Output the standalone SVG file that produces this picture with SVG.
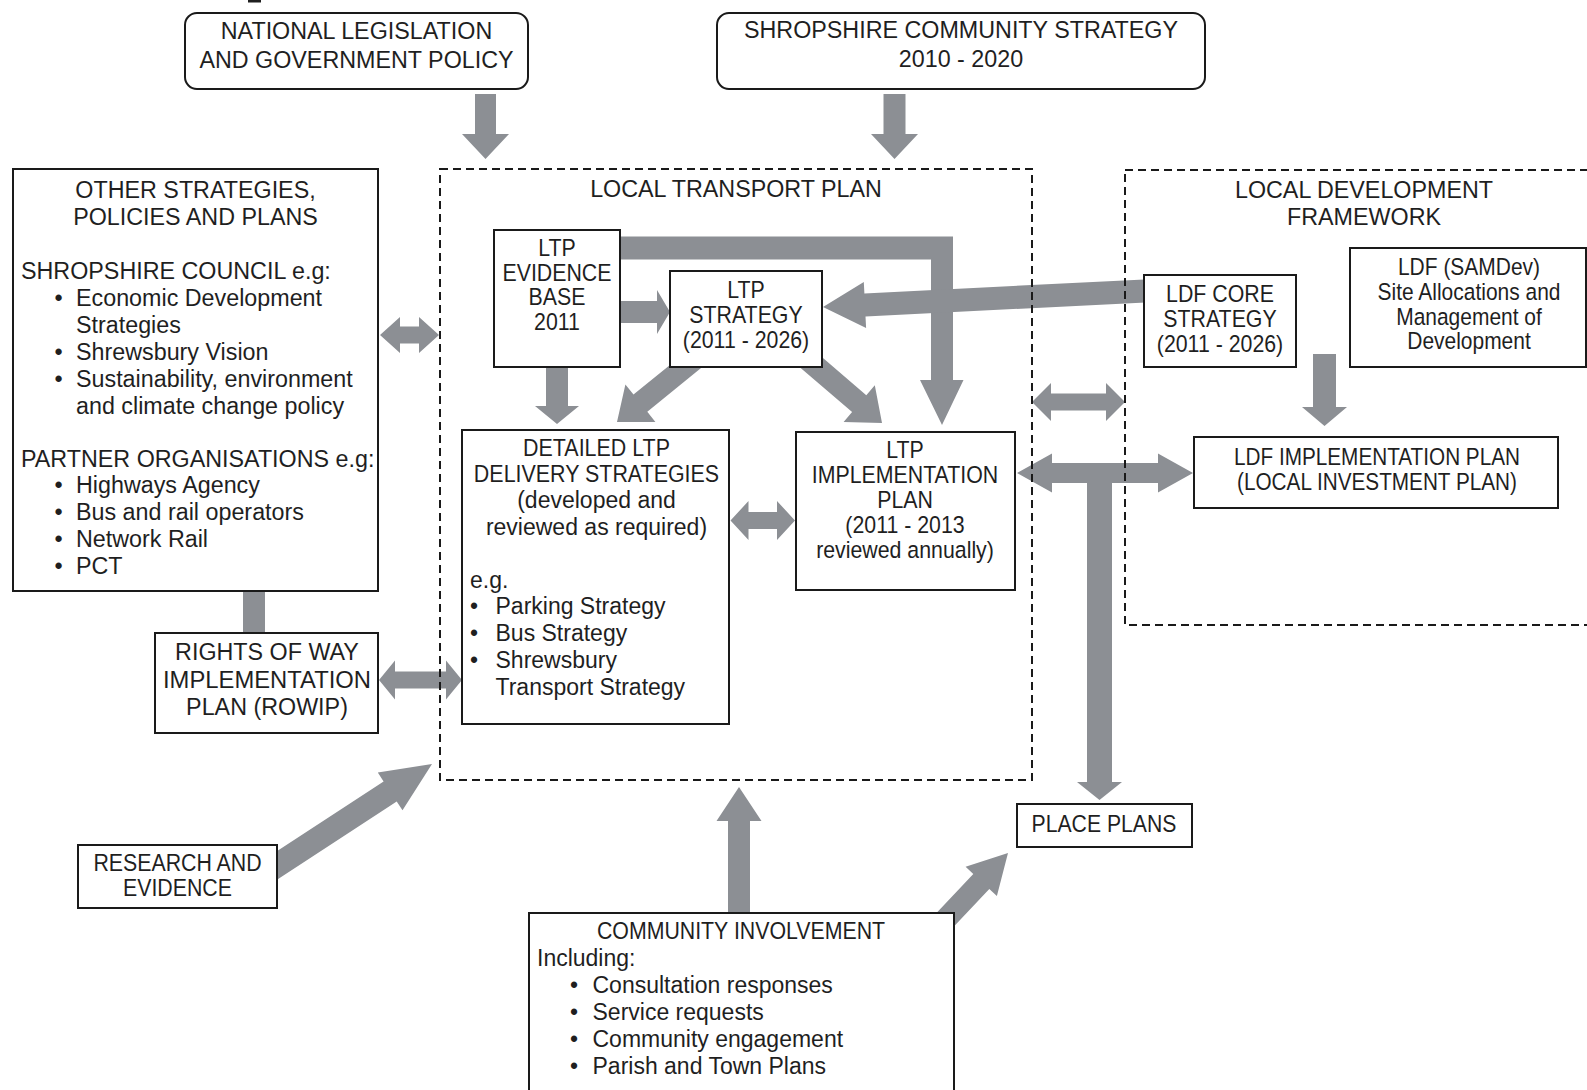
<svg xmlns="http://www.w3.org/2000/svg" width="1587" height="1090" viewBox="0 0 1587 1090">
<style>
  text { font-family: "Liberation Sans", Arial, sans-serif; fill: #1f1f1f; }
  .o { font-size: 23.3px; }
  .m { font-size: 23px; }
  .c { text-anchor: middle; }
  .box { fill: #ffffff; stroke: #1a1a1a; stroke-width: 2; }
  .dash { fill: none; stroke: #1a1a1a; stroke-width: 2; stroke-dasharray: 8 5; }
  .arr { fill: #8c8f94; stroke: none; }
</style>
<rect x="0" y="0" width="1587" height="1090" fill="#ffffff"/>
<rect x="248" y="0" width="13" height="2.5" fill="#1f1f1f"/>

<g id="connectors">
  <polygon class="arr" points="475,94 496,94 496,134 509,134 485.5,159 462,134 475,134"/>
  <polygon class="arr" points="883.5,94 905.5,94 905.5,134 918,134 894.5,159 871,134 883.5,134"/>
  <polygon class="arr" points="380,335 400,317 400,326.5 419,326.5 419,317 439,335 419,353 419,343.5 400,343.5 400,353"/>
  <rect class="arr" x="243" y="590" width="22" height="44"/>
  <polygon class="arr" points="379,680 395,660.5 395,671.5 446,671.5 446,660.5 462,680 446,699.5 446,688.5 395,688.5 395,699.5"/>
  <polygon class="arr" points="276.6,880 396.7,801.4 402.5,810.2 432,764 377.8,772.6 383.6,781.4 263.4,860"/>
  <polygon class="arr" points="728,914 728,821 716.5,821 739,787 761.5,821 750,821 750,914"/>
  <polygon class="arr" points="952,928.5 989.3,888.9 996.9,896.1 1008,853 965.6,866.7 973.3,873.9 936,913.5"/>
  <polygon class="arr" points="612,301 657,301 657,290 670,312 657,334 657,323 612,323"/>
  <polygon class="arr" points="546,362 568,362 568,406 579,406 557,424 535,406 546,406"/>
  <polygon class="arr" points="612,236.5 953,236.5 953,380 963.5,380 942,425 920,380 931,380 931,259.5 612,259.5"/>
  <polygon class="arr" points="1150.6,302.2 865.5,316.4 866.1,327.9 823,307 863.8,281.9 864.4,293.4 1149.4,279.2"/>
  <polygon class="arr" points="702.9,366.6 647.3,411.8 655.4,421.9 617,422 625.4,384.5 633.5,394.6 689.1,349.4"/>
  <polygon class="arr" points="798.9,366.4 852.1,412 843.6,421.9 882,423 874.8,385.3 866.3,395.2 813.1,349.6"/>
  <polygon class="arr" points="730.5,520.5 748.5,501 748.5,512 777,512 777,501 795,520.5 777,540 777,529 748.5,529 748.5,540"/>
  <polygon class="arr" points="1032,402 1051,383 1051,393.5 1106,393.5 1106,383 1125,402 1106,421 1106,410.5 1051,410.5 1051,421"/>
  <polygon class="arr" points="1017,473 1052,453.5 1052,463 1158,463 1158,453.5 1193,473 1158,492.5 1158,483 1112,483 1112,782 1122,782 1099.5,800 1077,782 1087,782 1087,483 1052,483 1052,492.5"/>
  <polygon class="arr" points="1313,354 1336,354 1336,407 1347,407 1324.5,426 1302,407 1313,407"/>
</g>

<g id="ltp">
  <rect class="dash" x="440" y="169" width="592" height="611"/>
  <text class="o c" x="736" y="197">LOCAL TRANSPORT PLAN</text>
</g>
<g id="ldf">
  <rect class="dash" x="1125" y="170" width="500" height="455"/>
  <text class="o c" x="1364" y="198">LOCAL DEVELOPMENT</text>
  <text class="o c" x="1364" y="225">FRAMEWORK</text>
</g>

<g id="national">
  <rect class="box" x="185" y="13" width="343" height="76" rx="12"/>
  <text class="o c" x="356.5" y="38.5">NATIONAL LEGISLATION</text>
  <text class="o c" x="356.5" y="68">AND GOVERNMENT POLICY</text>
</g>
<g id="community-strategy">
  <rect class="box" x="717" y="13" width="488" height="76" rx="12"/>
  <text class="o c" x="961" y="37.5">SHROPSHIRE COMMUNITY STRATEGY</text>
  <text class="o c" x="961" y="67">2010 - 2020</text>
</g>

<g id="other">
  <rect class="box" x="13" y="169" width="365" height="422"/>
  <text class="o c" x="195.5" y="198">OTHER STRATEGIES,</text>
  <text class="o c" x="195.5" y="225">POLICIES AND PLANS</text>
  <text class="o" x="21" y="279">SHROPSHIRE COUNCIL e.g:</text>
  <text class="o c" x="58.5" y="306">•</text>
  <text class="o" x="76" y="306">Economic Development</text>
  <text class="o" x="76" y="333">Strategies</text>
  <text class="o c" x="58.5" y="360">•</text>
  <text class="o" x="76" y="360">Shrewsbury Vision</text>
  <text class="o c" x="58.5" y="387">•</text>
  <text class="o" x="76" y="387">Sustainability, environment</text>
  <text class="o" x="76" y="414">and climate change policy</text>
  <text class="o" x="21" y="467">PARTNER ORGANISATIONS e.g:</text>
  <text class="o c" x="58.5" y="493">•</text>
  <text class="o" x="76" y="493">Highways Agency</text>
  <text class="o c" x="58.5" y="520">•</text>
  <text class="o" x="76" y="520">Bus and rail operators</text>
  <text class="o c" x="58.5" y="547">•</text>
  <text class="o" x="76" y="547">Network Rail</text>
  <text class="o c" x="58.5" y="574">•</text>
  <text class="o" x="76" y="574">PCT</text>
</g>

<g id="rowip">
  <rect class="box" x="155" y="633" width="223" height="100"/>
  <text class="o c" x="267" y="660">RIGHTS OF WAY</text>
  <text class="o c" x="267" y="687.5" textLength="208" lengthAdjust="spacingAndGlyphs">IMPLEMENTATION</text>
  <text class="o c" x="267" y="715">PLAN (ROWIP)</text>
</g>

<g id="research">
  <rect class="box" x="78" y="845" width="199" height="63"/>
  <g transform="translate(177.5 0) scale(0.915 1)">
    <text class="o c" x="0" y="871">RESEARCH AND</text>
    <text class="o c" x="0" y="896">EVIDENCE</text>
  </g>
</g>

<g id="community">
  <rect class="box" x="529" y="913" width="425" height="190"/>
  <g transform="translate(741 0) scale(0.915 1)">
    <text class="o c" x="0" y="939">COMMUNITY INVOLVEMENT</text>
  </g>
  <text class="m" x="537" y="966">Including:</text>
  <text class="m c" x="574" y="993">•</text>
  <text class="m" x="592.5" y="993">Consultation responses</text>
  <text class="m c" x="574" y="1020">•</text>
  <text class="m" x="592.5" y="1020">Service requests</text>
  <text class="m c" x="574" y="1047">•</text>
  <text class="m" x="592.5" y="1047">Community engagement</text>
  <text class="m c" x="574" y="1073.5">•</text>
  <text class="m" x="592.5" y="1073.5">Parish and Town Plans</text>
</g>

<g id="place-plans">
  <rect class="box" x="1017" y="804" width="175" height="43"/>
  <g transform="translate(1104 0) scale(0.91 1)">
    <text class="o c" x="0" y="832">PLACE PLANS</text>
  </g>
</g>

<g id="evidence">
  <rect class="box" x="494" y="230" width="126" height="137"/>
  <g transform="translate(557 0) scale(0.915 1)">
    <text class="o c" x="0" y="256.5">LTP</text>
    <text class="o c" x="0" y="281">EVIDENCE</text>
    <text class="o c" x="0" y="305.5">BASE</text>
    <text class="o c" x="0" y="330">2011</text>
  </g>
</g>

<g id="strategy">
  <rect class="box" x="670" y="271" width="152" height="96"/>
  <g transform="translate(746 0) scale(0.915 1)">
    <text class="o c" x="0" y="298">LTP</text>
    <text class="o c" x="0" y="323">STRATEGY</text>
    <text class="o c" x="0" y="348">(2011 - 2026)</text>
  </g>
</g>

<g id="detailed">
  <rect class="box" x="462" y="430" width="267" height="294"/>
  <g transform="translate(596.5 0) scale(0.92 1)">
    <text class="o c" x="0" y="456.5">DETAILED LTP</text>
    <text class="o c" x="0" y="482">DELIVERY STRATEGIES</text>
  </g>
  <text class="m c" x="596.5" y="508">(developed and</text>
  <text class="m c" x="596.5" y="535">reviewed as required)</text>
  <text class="m" x="470" y="588">e.g.</text>
  <text class="m c" x="474" y="613.5">•</text>
  <text class="m" x="495.5" y="613.5">Parking Strategy</text>
  <text class="m c" x="474" y="641">•</text>
  <text class="m" x="495.5" y="641">Bus Strategy</text>
  <text class="m c" x="474" y="667.5">•</text>
  <text class="m" x="495.5" y="667.5">Shrewsbury</text>
  <text class="m" x="495.5" y="695">Transport Strategy</text>
</g>

<g id="implementation">
  <rect class="box" x="796" y="432" width="219" height="158"/>
  <g transform="translate(905 0) scale(0.915 1)">
    <text class="o c" x="0" y="458">LTP</text>
    <text class="o c" x="0" y="483">IMPLEMENTATION</text>
    <text class="o c" x="0" y="508">PLAN</text>
    <text class="o c" x="0" y="533">(2011 - 2013</text>
    <text class="o c" x="0" y="558">reviewed annually)</text>
  </g>
</g>

<g id="ldf-core">
  <rect class="box" x="1144" y="275" width="152" height="92"/>
  <g transform="translate(1220 0) scale(0.915 1)">
    <text class="o c" x="0" y="302">LDF CORE</text>
    <text class="o c" x="0" y="327">STRATEGY</text>
    <text class="o c" x="0" y="352">(2011 - 2026)</text>
  </g>
</g>

<g id="samdev">
  <rect class="box" x="1350" y="248" width="236" height="119"/>
  <g transform="translate(1469 0) scale(0.9 1)">
    <text class="o c" x="0" y="275">LDF (SAMDev)</text>
    <text class="o c" x="0" y="300">Site Allocations and</text>
    <text class="o c" x="0" y="325">Management of</text>
    <text class="o c" x="0" y="349">Development</text>
  </g>
</g>

<g id="ldf-implementation">
  <rect class="box" x="1194" y="437" width="364" height="71"/>
  <g transform="translate(1377 0) scale(0.89 1)">
    <text class="o c" x="0" y="465">LDF IMPLEMENTATION PLAN</text>
    <text class="o c" x="0" y="490">(LOCAL INVESTMENT PLAN)</text>
  </g>
</g>
</svg>
